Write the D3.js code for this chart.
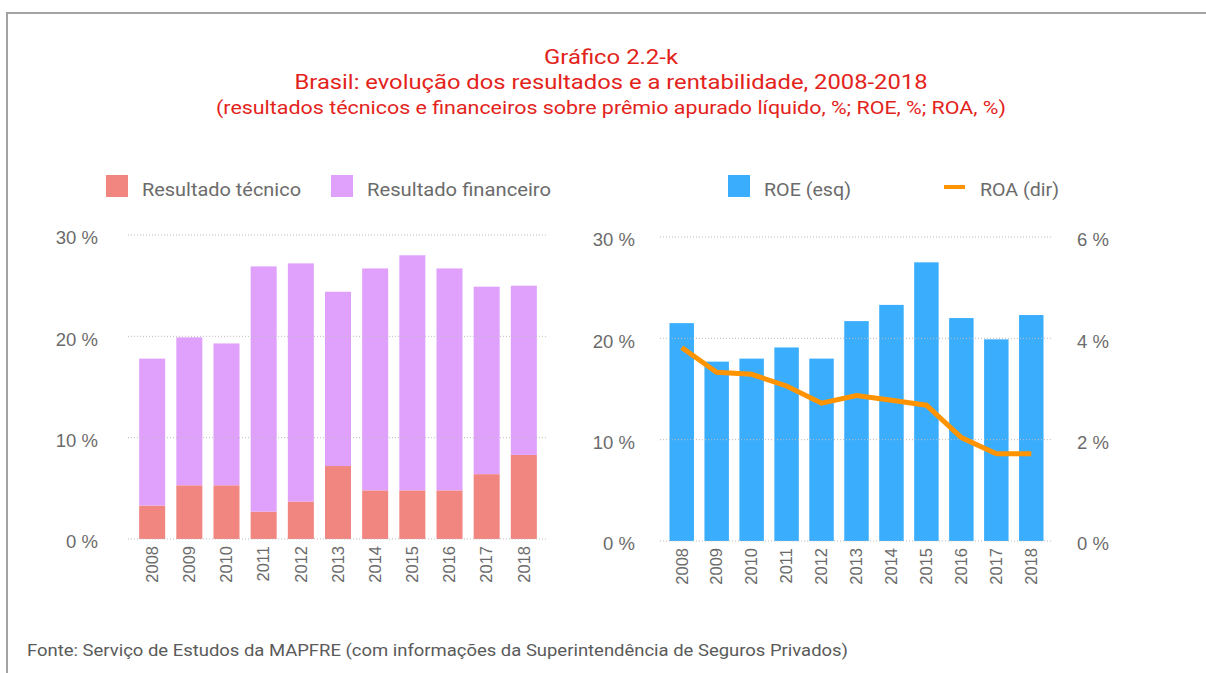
<!DOCTYPE html>
<html lang="en">
<head>
<meta charset="UTF-8">
<title>Gráfico 2.2-k</title>
<script src="https://d3js.org/d3.v7.min.js"></script>
<style>
    body { margin: 0; background: #fff; }
    svg { display: block; font-family: Roboto, "Noto Sans", sans-serif; }
    .title { fill: #e3231b; text-anchor: middle; }
    .tick text { fill: #6b6b6b; }
    .grid line { stroke: #bdbdbd; stroke-dasharray: 1,2; }
    .legend text { fill: #6b6b6b; font-size: 18px; }
</style>
</head>
<body>
<div id="chart"></div>
<script>
// data
const years = ["2008","2009","2010","2011","2012","2013","2014","2015","2016","2017","2018"];
const resultadoTecnico    = [3.3, 5.3, 5.3, 2.7, 3.7, 7.2, 4.8, 4.8, 4.8, 6.4, 8.3];
const resultadoFinanceiro = [14.5, 14.6, 14.0, 24.2, 23.5, 17.2, 21.9, 23.2, 21.9, 18.5, 16.7];
const roe = [21.5, 17.7, 18.0, 19.1, 18.0, 21.7, 23.3, 27.5, 22.0, 19.9, 22.3];
const roa = [3.82, 3.33, 3.29, 3.06, 2.72, 2.87, 2.78, 2.68, 2.04, 1.72, 1.72];
const leftTicks = [0, 10, 20, 30];
const rightTicks = [0, 2, 4, 6];

const W = 1206, H = 673;
const svg = d3.select("#chart").append("svg").attr("width", W).attr("height", H);

// frame
svg.append("line").attr("x1", 6).attr("x2", W).attr("y1", 13).attr("y2", 13)
    .attr("stroke", "#a3a3a3").attr("stroke-width", 2);
svg.append("line").attr("x1", 7).attr("x2", 7).attr("y1", 13).attr("y2", H)
    .attr("stroke", "#a3a3a3").attr("stroke-width", 2);

// titles (the original face is wider than Roboto, so stretch to its width)
function title(y, size, len, txt) {
    svg.append("text").attr("class", "title").attr("x", 611).attr("y", y)
        .style("font-size", size + "px")
        .attr("textLength", len).attr("lengthAdjust", "spacingAndGlyphs")
        .text(txt);
}
title(64, 20, 134, "Gráfico 2.2-k");
title(89, 20, 633, "Brasil: evolução dos resultados e a rentabilidade, 2008-2018");
title(114, 18, 790, "(resultados técnicos e financeiros sobre prêmio apurado líquido, %; ROE, %; ROA, %)");

const pct = d => d + " %";

function gridAndAxes(g, x, y, x0, x1) {
    // dotted gridlines
    g.append("g").attr("class", "grid")
        .selectAll("line").data(leftTicks).join("line")
        .attr("x1", x0).attr("x2", x1)
        .attr("y1", d => y(d)).attr("y2", d => y(d));
    // year labels
    const xa = g.append("g").attr("transform", `translate(0,${y(0)})`)
        .call(d3.axisBottom(x).tickSize(0).tickPadding(0));
    xa.select(".domain").remove();
    xa.selectAll("text")
        .attr("transform", "rotate(-90)")
        .attr("x", -7).attr("y", 0).attr("dy", "0.35em")
        .style("text-anchor", "end").style("font-size", "16.5px");
}

function valueAxis(g, axis, x) {
    const a = g.append("g").attr("transform", `translate(${x},3)`).call(axis);
    a.select(".domain").remove();
    a.selectAll("text").style("font-size", "18.5px");
}

// ---------- left chart: stacked bars ----------
const xL = d3.scaleBand().domain(years).range([128, 548]).padding(0.3);
const yL = d3.scaleLinear().domain([0, 30]).range([539, 235]);
const left = svg.append("g");

const stackRows = years.map((yr, i) => ({ year: yr, tec: resultadoTecnico[i], fin: resultadoFinanceiro[i] }));
const stacked = d3.stack().keys(["tec", "fin"])(stackRows);
const colorsL = { tec: "#f18580", fin: "#e0a1fc" };

left.selectAll("g.layer").data(stacked).join("g")
    .attr("class", "layer").attr("fill", d => colorsL[d.key])
    .selectAll("rect").data(d => d).join("rect")
    .attr("x", d => xL(d.data.year))
    .attr("width", xL.bandwidth())
    .attr("y", d => yL(d[1]))
    .attr("height", d => yL(d[0]) - yL(d[1]));

gridAndAxes(left, xL, yL, 128, 548);
valueAxis(left, d3.axisLeft(yL).tickValues(leftTicks).tickFormat(pct).tickSize(0).tickPadding(0), 98);

// ---------- right chart: ROE bars + ROA line ----------
const xR = d3.scaleBand().domain(years).range([659, 1054]).padding(0.3);
const yR = d3.scaleLinear().domain([0, 30]).range([541, 237]);
const yR2 = d3.scaleLinear().domain([0, 6]).range([541, 237]);
const right = svg.append("g");

right.append("g").selectAll("rect").data(roe).join("rect")
    .attr("fill", "#3aadfd")
    .attr("x", (d, i) => xR(years[i]))
    .attr("width", xR.bandwidth())
    .attr("y", d => yR(d))
    .attr("height", d => yR(0) - yR(d));

gridAndAxes(right, xR, yR, 660, 1052);

right.append("path").datum(roa)
    .attr("fill", "none").attr("stroke", "#ff9300").attr("stroke-width", 5)
    .attr("d", d3.line().x((d, i) => xR(years[i]) + xR.bandwidth() / 2).y(d => yR2(d)));

valueAxis(right, d3.axisLeft(yR).tickValues(leftTicks).tickFormat(pct).tickSize(0).tickPadding(0), 635);
valueAxis(right, d3.axisRight(yR2).tickValues(rightTicks).tickFormat(pct).tickSize(0).tickPadding(0), 1077);

// ---------- legends ----------
const legend = svg.append("g").attr("class", "legend");
const legendItems = [
    { label: "Resultado técnico", color: "#f18580", x: 106, type: "rect", len: 159 },
    { label: "Resultado financeiro", color: "#e0a1fc", x: 331, type: "rect", len: 184 },
    { label: "ROE (esq)", color: "#3aadfd", x: 728, type: "rect", len: 87 },
    { label: "ROA (dir)", color: "#ff9300", x: 944, type: "line", len: 79 }
];
legendItems.forEach(it => {
    if (it.type === "rect") {
        legend.append("rect").attr("x", it.x).attr("y", 175).attr("width", 22).attr("height", 22).attr("fill", it.color);
    } else {
        legend.append("line").attr("x1", it.x).attr("x2", it.x + 21).attr("y1", 187).attr("y2", 187)
            .attr("stroke", it.color).attr("stroke-width", 4);
    }
    legend.append("text").attr("x", it.x + 36).attr("y", 196)
        .attr("textLength", it.len).attr("lengthAdjust", "spacingAndGlyphs")
        .text(it.label);
});

// source
svg.append("text").attr("x", 27).attr("y", 656)
    .attr("fill", "#5a5a5a").style("font-size", "16px")
    .attr("textLength", 821).attr("lengthAdjust", "spacingAndGlyphs")
    .text("Fonte: Serviço de Estudos da MAPFRE (com informações da Superintendência de Seguros Privados)");
</script>
</body>
</html>
